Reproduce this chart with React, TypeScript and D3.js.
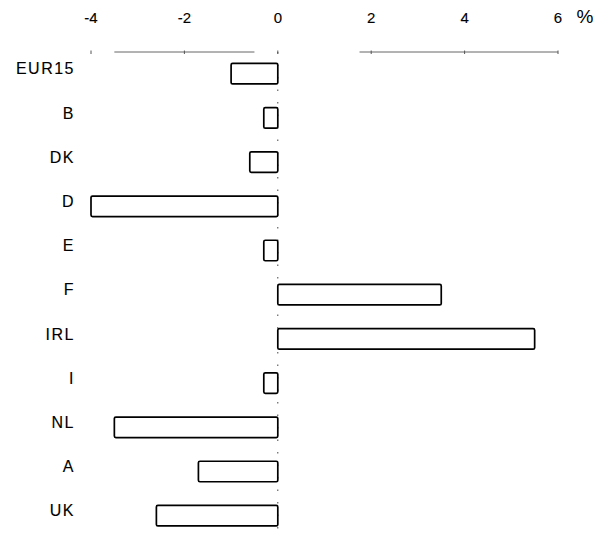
import {useEffect, useRef} from "react"

import * as d3 from "d3"

const countries = ["EUR15", "B", "DK", "D", "E", "F", "IRL", "I", "NL", "A", "UK"]
const changes = [-1.0, -0.3, -0.6, -4.0, -0.3, 3.5, 5.5, -0.3, -3.5, -1.7, -2.6]
const tickValues = [-4, -2, 0, 2, 4, 6]
const unitLabel = "%"

const width = 605
const height = 534

const App = (): JSX.Element => {
  const ref = useRef<SVGSVGElement>(null)

  useEffect(() => {
    if (!ref.current) return
    const svg = d3.select(ref.current)
    svg.selectAll("*").remove()

    const xScale = d3.scaleLinear().domain([-4, 6]).range([91, 558])
    const yScale = d3
      .scaleBand<string>()
      .domain(countries)
      .range([51.6, 537.8])
      .paddingInner(0.536)
      .paddingOuter(0.268)

    const font = "'Liberation Sans', Arial, sans-serif"
    const axisY = 52

    // axis line, broken like the scanned original
    const segA = xScale(-3.5) - xScale(-4)
    const segB = xScale(-0.5) - xScale(-3.5)
    const segC = xScale(1.75) - xScale(-0.5)
    const segD = xScale(6) - xScale(1.75)
    svg
      .append("line")
      .attr("x1", xScale(-4))
      .attr("x2", xScale(6))
      .attr("y1", axisY)
      .attr("y2", axisY)
      .attr("stroke", "#666")
      .attr("stroke-width", 1)
      .attr("stroke-dasharray", `0 ${segA} ${segB} ${segC} ${segD}`)

    // zero line, dotted
    svg
      .append("line")
      .attr("x1", xScale(0))
      .attr("x2", xScale(0))
      .attr("y1", axisY)
      .attr("y2", 530)
      .attr("stroke", "#444")
      .attr("stroke-width", 1)
      .attr("stroke-dasharray", "1.5 11")

    // small ticks on the axis
    svg
      .append("g")
      .selectAll("line")
      .data(tickValues)
      .join("line")
      .attr("x1", (d) => xScale(d))
      .attr("x2", (d) => xScale(d))
      .attr("y1", axisY - 1.5)
      .attr("y2", axisY + 2)
      .attr("stroke", "#555")
      .attr("stroke-width", 1)

    svg
      .append("g")
      .selectAll("text")
      .data(tickValues)
      .join("text")
      .attr("x", (d) => xScale(d))
      .attr("y", 18)
      .attr("dy", "0.35em")
      .attr("text-anchor", "middle")
      .attr("font-family", font)
      .attr("font-size", 15)
      .attr("fill", "#000")
      .attr("stroke", "#000")
      .attr("stroke-width", 0.12)
      .text((d) => (d < 0 ? `-${Math.abs(d)}` : `${d}`))

    svg
      .append("text")
      .attr("x", 585)
      .attr("y", 16)
      .attr("dy", "0.35em")
      .attr("text-anchor", "middle")
      .attr("font-family", font)
      .attr("font-size", 19)
      .attr("fill", "#000")
      .text(unitLabel)

    const rows = countries.map((name, i) => ({name, value: changes[i]}))

    svg
      .append("g")
      .selectAll("rect")
      .data(rows)
      .join("rect")
      .attr("x", (d) => xScale(Math.min(0, d.value)))
      .attr("y", (d) => yScale(d.name) ?? 0)
      .attr("width", (d) => Math.abs(xScale(d.value) - xScale(0)))
      .attr("height", yScale.bandwidth())
      .attr("rx", 1.5)
      .attr("fill", "white")
      .attr("stroke", "#000")
      .attr("stroke-width", 1.7)

    svg
      .append("g")
      .selectAll("text")
      .data(rows)
      .join("text")
      .attr("x", 75)
      .attr("y", (d) => (yScale(d.name) ?? 0) + yScale.bandwidth() / 2 - 5)
      .attr("dy", "0.35em")
      .attr("text-anchor", "end")
      .attr("font-family", font)
      .attr("font-size", 16)
      .attr("letter-spacing", 1.5)
      .attr("fill", "#000")
      .attr("stroke", "#000")
      .attr("stroke-width", 0.12)
      .text((d) => d.name)
  }, [])

  return (
    <svg
      ref={ref}
      width={width}
      height={height}
      style={{position: "absolute", left: 0, top: 0, background: "white"}}
    />
  )
}

export default App
